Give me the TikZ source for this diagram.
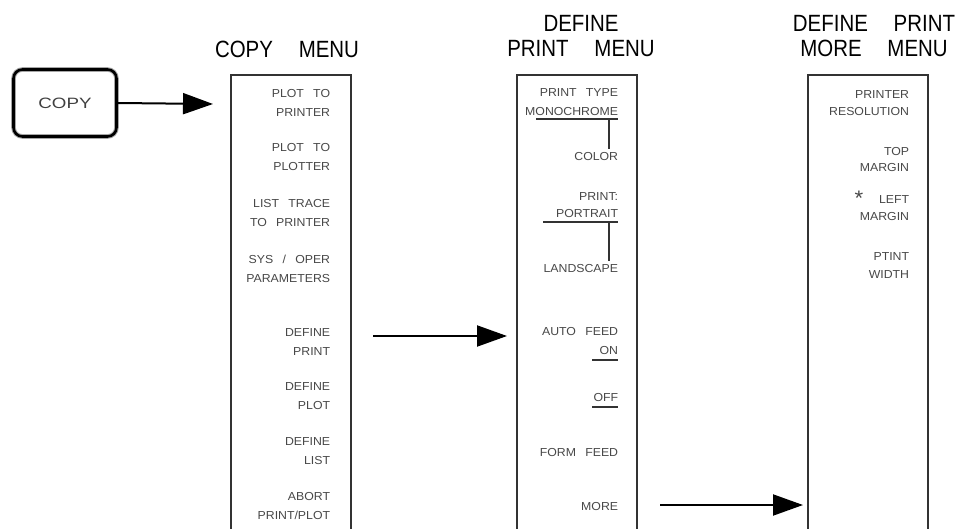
\documentclass[tikz,border=0pt]{standalone}
\usepackage{fontspec}
\setmainfont{Liberation Sans}
\newfontfamily\menufont[FakeStretch=1.06]{Liberation Sans}
\newfontfamily\titlefont[FakeStretch=0.87]{Liberation Sans}
\newfontfamily\keyfont[FakeStretch=1.25]{Liberation Sans}
\newcommand{\gap}{\hspace{0.8em}}
\newcommand{\tgap}{\hspace{1.1em}}
\usepackage{tikz}
\usetikzlibrary{arrows.meta,positioning,calc}

\begin{document}
\begin{tikzpicture}[x=1pt, y=-1pt,
        softkey/.style={anchor=east, align=right, inner sep=3.7pt, text=black!72, font=\menufont\fontsize{11.6}{19}\selectfont},
        menutitle/.style={align=center, inner sep=0pt, font=\titlefont\fontsize{23.5}{25}\selectfont},
        keybox/.style={rectangle, draw=black, line width=2.6pt, rounded corners=9pt, minimum width=103pt, minimum height=67pt,
            preaction={draw=black!35, line width=4.6pt}, font=\keyfont\fontsize{15}{18}\selectfont, text=black!75},
        frame/.style={draw=black!80, line width=1.3pt},
        uline/.style={draw=black!80, line width=1.3pt},
        arrow/.style={-{Triangle[length=30pt, width=21pt]}, line width=2pt}
    ]
    \useasboundingbox (0,0) rectangle (966,529);

    % Hard key
    \node[keybox] (copykey) at (65,103) {COPY};

    % Menu frames (open at the bottom)
    \draw[frame] (231,529) |- (351,75) -- (351,529);
    \draw[frame] (517,529) |- (637,75) -- (637,529);
    \draw[frame] (808,529) |- (928,75) -- (928,529);

    % Titles
    \node[menutitle] (copytitle) at (287,49) {COPY\tgap MENU};
    \node[menutitle] (printtitle) at (581,36.5) {DEFINE\\PRINT\tgap MENU};
    \node[menutitle] (moretitle) at (874,36.5) {DEFINE\tgap PRINT\\MORE\tgap MENU};

    % COPY MENU softkeys
    \node[softkey] (plotprn) at (334,102.5) {PLOT\gap TO\\PRINTER};
    \node[softkey] (plotplt) at (334,157.5) {PLOT\gap TO\\PLOTTER};
    \node[softkey] (listtrace) at (334,213.5) {LIST\gap TRACE\\TO\gap PRINTER};
    \node[softkey] (sysoper) at (334,268.5) {SYS\gap /\gap OPER\\PARAMETERS};
    \node[softkey] (defprint) at (334,342) {DEFINE\\PRINT};
    \node[softkey] (defplot) at (334,396.5) {DEFINE\\PLOT};
    \node[softkey] (deflist) at (334,451.5) {DEFINE\\LIST};
    \node[softkey] (abort) at (334,506.5) {ABORT\\PRINT/PLOT};

    % DEFINE PRINT MENU softkeys
    \node[softkey] (printtype) at (622,102.5) {PRINT\gap TYPE\\MONOCHROME};
    \node[softkey] (color) at (622,157) {COLOR};
    \node[softkey, font=\menufont\fontsize{11.6}{17}\selectfont] (orient) at (622,205.5) {PRINT:\\PORTRAIT};
    \node[softkey] (landscape) at (622,269) {LANDSCAPE};
    \node[softkey] (autofeed) at (622,341.5) {AUTO\gap FEED\\ON};
    \node[softkey] (off) at (622,398) {OFF};
    \node[softkey] (formfeed) at (622,453) {FORM\gap FEED};
    \node[softkey] (more) at (622,507) {MORE};

    % toggle marks
    \coordinate (monoL) at (536,119);
    \coordinate (monoR) at (618,119);
    \coordinate (monoT) at (609,119);
    \coordinate (portL) at (543,222);
    \coordinate (portR) at (618,222);
    \coordinate (portT) at (609,222);
    \draw[uline] (monoL) -- (monoR);
    \draw[uline] (monoT) -- (color.north -| monoT);
    \draw[uline] (portL) -- (portR);
    \draw[uline] (portT) -- (landscape.north -| portT);
    \draw[uline] ([xshift=-30pt, yshift=-1pt]autofeed.south east) -- ([xshift=-4pt, yshift=-1pt]autofeed.south east);
    \draw[uline] ([xshift=-30pt, yshift=-1pt]off.south east) -- ([xshift=-4pt, yshift=-1pt]off.south east);

    % DEFINE PRINT MORE MENU softkeys
    \node[softkey, font=\menufont\fontsize{11.6}{17}\selectfont] (resolution) at (913,103.5) {PRINTER\\RESOLUTION};
    \node[softkey, font=\menufont\fontsize{11.6}{16}\selectfont] (topmargin) at (913,160) {TOP\\MARGIN};
    \node[softkey, font=\menufont\fontsize{11.6}{17}\selectfont] (leftmargin) at (913,208.5) {LEFT\\MARGIN};
    \node[text=black!72, font=\menufont\fontsize{21}{21}\selectfont, inner sep=0pt] (star) at (859,198) {*};
    \node[softkey, font=\menufont\fontsize{11.6}{18}\selectfont] (ptint) at (913,266) {PTINT\\WIDTH};

    % Arrows
    \coordinate (tipA) at (213,104);
    \coordinate (startB) at (373,336);
    \coordinate (tipB) at (507,336);
    \coordinate (startC) at (660,505);
    \coordinate (tipC) at (803,505);
    \draw[arrow] (copykey.east) -- (tipA);
    \draw[arrow] (startB) -- (tipB);
    \draw[arrow] (startC) -- (tipC);

\end{tikzpicture}
\end{document}
